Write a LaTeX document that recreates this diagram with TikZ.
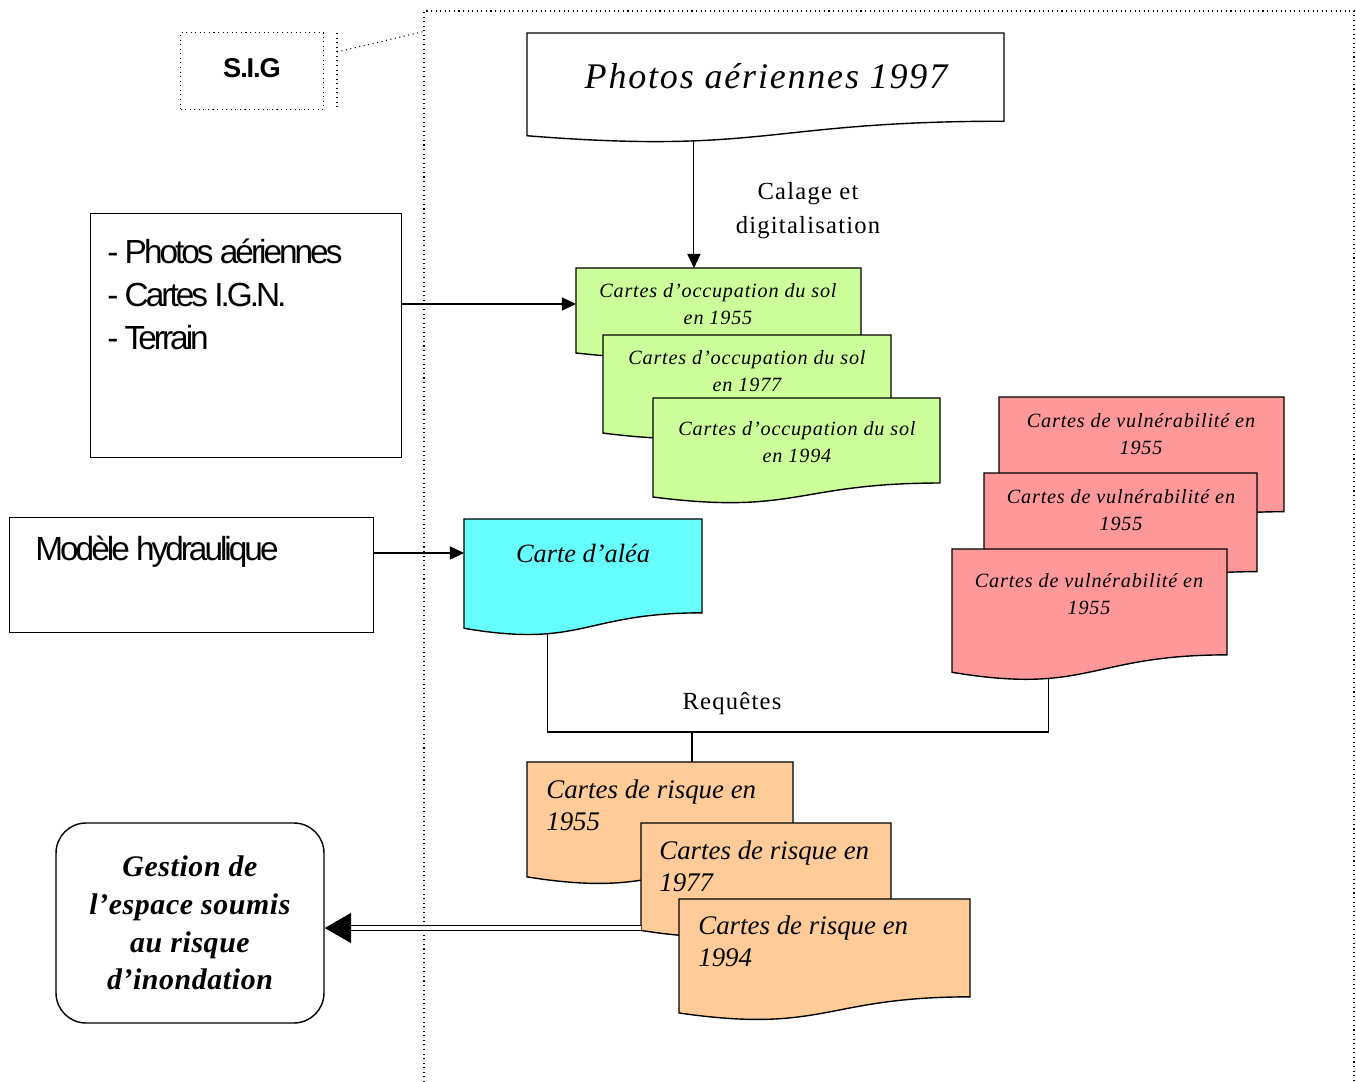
\documentclass[tikz,border=0pt]{standalone}
\usepackage{fontspec}
\setmainfont{Liberation Serif}
\setsansfont{Liberation Sans}
\newfontfamily\airfont[LetterSpace=5]{Liberation Serif}
\newfontfamily\occfont[LetterSpace=4]{Liberation Serif}
\newfontfamily\gestfont[LetterSpace=2]{Liberation Serif}
\newfontfamily\tightsans[LetterSpace=-9]{Liberation Sans}
\newfontfamily\sigsans[LetterSpace=-4]{Liberation Sans}
\usepackage{tikz}
\usetikzlibrary{arrows.meta, positioning, calc}
\definecolor{occgreen}{RGB}{204, 255, 153}
\definecolor{aleacyan}{RGB}{102, 255, 255}
\definecolor{vulnred}{RGB}{255, 153, 153}
\definecolor{risqueorange}{RGB}{255, 204, 153}
\tikzstyle{docline} = [draw=black, line width=0.8pt]
\tikzstyle{plainbox} = [rectangle, draw=black, line width=0.6pt, anchor=north west]
\tikzstyle{sigbox} = [rectangle, draw=black, dotted, line width=0.6pt, minimum width=2.86cm, minimum height=1.54cm, font=\sigsans\bfseries\fontsize{15.5}{18}\selectfont]
\tikzstyle{listtext} = [anchor=north west, inner sep=0pt, align=left, font=\tightsans\fontsize{19}{24.4}\selectfont]
\tikzstyle{phototext} = [inner sep=0pt, font=\airfont\itshape\fontsize{20.5}{24}\selectfont]
\tikzstyle{occtext} = [inner sep=0pt, align=center, font=\occfont\itshape\fontsize{11.5}{15}\selectfont]
\tikzstyle{aleatext} = [inner sep=0pt, font=\itshape\fontsize{15}{18}\selectfont]
\tikzstyle{risktext} = [anchor=west, inner sep=0pt, align=left, font=\itshape\fontsize{15.3}{18}\selectfont]
\tikzstyle{labeltext} = [inner sep=0pt, align=center, font=\airfont\fontsize{14}{19.3}\selectfont]
\tikzstyle{gestionbox} = [rectangle, rounded corners=0.6cm, draw=black, line width=0.8pt, minimum width=5.36cm, minimum height=4cm, align=center, font=\gestfont\bfseries\itshape\fontsize{17}{21.5}\selectfont]
\tikzstyle{arrow} = [line width=0.6pt, -{Triangle[length=8pt, width=7.5pt]}]
\tikzstyle{link} = [line width=0.6pt]
\tikzstyle{dblarrow} = [double, double distance=2.3pt, line width=0.7pt, -{Triangle[length=15pt, width=17pt]}]
\tikzstyle{framed} = [dotted, line width=0.6pt]

% document shape: name, colour, left, top, right, height
\newcommand{\docshape}[6]{%
  \draw[docline, fill=#2] (#3,#4) coordinate (#1-nw) -- (#5,#4) coordinate (#1-ne)
    -- (#5,{#4+0.802*#6})
    .. controls ({(#3+#5)/2},{#4+0.802*#6}) and ({(#3+#5)/2},{#4+1.107*#6}) ..
    (#3,{#4+0.934*#6}) -- cycle;
  \coordinate (#1-s) at ({#3+0.35*(#5-#3)},{#4+0.98*#6});
}

\begin{document}
\begin{tikzpicture}[x=0.02cm, y=-0.02cm]
    \useasboundingbox (0,0) rectangle (1356,1082);

    % SIG frame
    \draw[framed] (424,1082) -- (424,11) -- (1354,11) -- (1354,1082);
    \node (sig) [sigbox] at (252,71) {\raisebox{3pt}{S.I.G}};
    \coordinate (callout) at (426,31);
    \draw[framed] (337,33) -- (337,108);
    \draw[framed] (337,52) -- (callout);

    % Inputs
    \node (lists) [plainbox, minimum width=6.22cm, minimum height=4.88cm,
        label={[listtext, xshift=0.34cm, yshift=-0.52cm]north west:{- Photos aériennes\\- Cartes I.G.N.\\- Terrain}}] at (90,213) {};
    \node (hydro) [plainbox, minimum width=7.28cm, minimum height=2.3cm,
        label={[listtext, xshift=0.52cm, yshift=-0.38cm]north west:{Modèle hydraulique}}] at (9,517) {};
    \node (gestion) [gestionbox] at (190,923) {Gestion de\\l’espace soumis\\au risque\\d’inondation};

    % Documents
    \docshape{ph}{white}{527}{33}{1004}{110}
    \node (photos) [phototext] at (766,76) {Photos aériennes 1997};

    \docshape{g1}{occgreen}{576}{268}{861}{91}
    \node (occ55) [occtext] at (718,304) {Cartes d’occupation du sol\\en 1955};
    \docshape{g2}{occgreen}{603}{335}{891}{105}
    \node (occ77) [occtext] at (747,371) {Cartes d’occupation du sol\\en 1977};
    \docshape{g3}{occgreen}{653}{398}{940}{106}
    \node (occ94) [occtext] at (797,442) {Cartes d’occupation du sol\\en 1994};

    \docshape{al}{aleacyan}{464}{519}{702}{117}
    \node (alea) [aleatext] at (583,553) {Carte d’aléa};

    \docshape{r1}{vulnred}{999}{397}{1284}{143}
    \node (vuln1) [occtext] at (1141,434) {Cartes de vulnérabilité en\\1955};
    \docshape{r2}{vulnred}{984}{473}{1257}{123}
    \node (vuln2) [occtext] at (1121,510) {Cartes de vulnérabilité en\\1955};
    \docshape{r3}{vulnred}{952}{549}{1227}{132}
    \node (vuln3) [occtext] at (1089,594) {Cartes de vulnérabilité en\\1955};

    \docshape{o1}{risqueorange}{527}{762}{793}{123}
    \node (risk55) [risktext] at (546,805) {Cartes de risque en\\1955};
    \docshape{o2}{risqueorange}{641}{823}{891}{115}
    \node (risk77) [risktext] at (659,866) {Cartes de risque en\\1977};
    \docshape{o3}{risqueorange}{679}{899}{970}{122}
    \node (risk94) [risktext] at (698,941) {Cartes de risque en\\1994};

    % Labels
    \node (calage) [labeltext] at (808,211) {Calage et\\digitalisation};
    \node (reqlabel) [labeltext] at (732,704) {Requêtes};
    \coordinate (req) at (692,732);

    % Arrows
    \draw [arrow] (ph-s) -- (ph-s |- g1-nw);
    \draw [arrow] (lists.east |- occ55) -- (occ55 -| g1-nw);
    \draw [arrow] (hydro.east |- alea) -- (alea -| al-nw);
    \draw [link] (al-s) |- (req -| r3-s) -- (r3-s);
    \draw [link] (req) -- (req |- o1-nw);
    \draw [dblarrow] ([yshift=-0.1cm]gestion.east -| o2-nw) -- ([yshift=-0.1cm]gestion.east);
\end{tikzpicture}
\end{document}
